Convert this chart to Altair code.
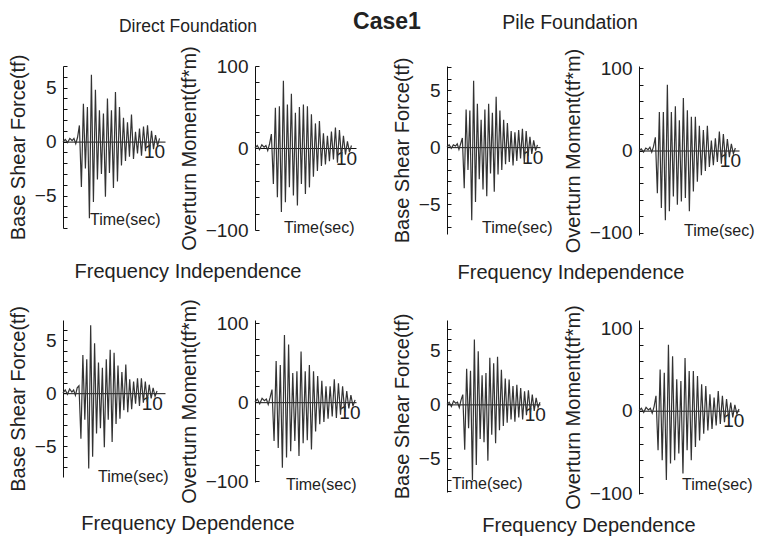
import altair as alt
import pandas as pd

# shared time instants (sec) of the read-off extrema
T = [0.0, 0.25, 0.5, 0.75, 1.0, 1.2, 1.4, 1.6,
     1.80, 2.02, 2.24, 2.46, 2.68, 2.90, 3.12, 3.34, 3.56, 3.78,
     4.00, 4.22, 4.44, 4.66, 4.88, 5.10, 5.32, 5.54, 5.76, 5.98,
     6.20, 6.42, 6.64, 6.86, 7.08, 7.30, 7.52, 7.74, 7.96, 8.18,
     8.40, 8.62, 8.84, 9.06, 9.28, 9.50, 9.72, 9.94, 10.16, 10.38, 10.60]

# Direct foundation, frequency independence
DIRECT_FI_SHEAR = [0.0, 0.2, -0.1, 0.3, 0.1, 0.3, -0.2, 0.4,
                   1.5, -4.2, 3.5, -2.5, 3.2, -7.1, 6.2, -5.6, 4.8, -3.5,
                   2.9, -3.0, 2.6, -5.1, 4.0, -2.9, 2.9, -4.3, 4.6, -3.7,
                   3.2, -2.2, 2.2, -1.8, 1.8, -1.4, 2.5, -1.6, 0.9, -1.1,
                   1.2, -1.3, 1.4, -0.9, 1.5, -1.0, 1.0, -0.7, 0.6, -0.4, 0.3]
DIRECT_FI_MOMENT = [0, 3, -2, 4, 1, 3, -3, 5,
                    17, -44, 49, -60, 51, -78, 82, -66, 53, -48,
                    66, -58, 43, -70, 50, -44, 53, -56, 51, -48,
                    41, -35, 30, -28, 33, -22, 18, -20, 15, -16,
                    20, -14, 25, -18, 22, -12, 15, -8, 8, -5, 3]
# Pile foundation, frequency independence
PILE_FI_SHEAR = [0.0, 0.2, -0.1, 0.2, 0.1, 0.3, -0.2, 0.3,
                 0.8, -3.6, 3.3, -2.0, 3.2, -6.4, 5.8, -4.8, 3.8, -2.8,
                 2.4, -3.7, 3.3, -4.3, 3.8, -2.3, 3.0, -3.9, 4.4, -2.4,
                 3.2, -2.0, 2.4, -1.5, 2.1, -1.3, 1.4, -1.6, 1.3, -1.2,
                 1.5, -1.0, 1.6, -1.4, 1.4, -0.8, 0.9, -0.6, 0.6, -0.3, 0.2]
PILE_FI_MOMENT = [0, 2, -2, 3, 1, 4, -2, 5,
                  16, -52, 47, -70, 47, -85, 80, -74, 47, -56,
                  54, -66, 37, -62, 64, -58, 49, -74, 41, -50,
                  41, -38, 30, -30, 25, -25, 30, -20, 12, -18,
                  15, -14, 23, -16, 20, -12, 14, -8, 8, -4, 3]
# Direct foundation, frequency dependence
DIRECT_FD_SHEAR = [0.0, 0.3, -0.1, 0.4, 0.1, 0.3, -0.2, 0.5,
                   0.7, -4.3, 3.6, -2.5, 3.2, -7.1, 6.4, -6.0, 4.7, -3.8,
                   2.9, -3.3, 2.4, -5.1, 3.2, -2.5, 4.1, -4.6, 3.8, -2.9,
                   2.6, -2.4, 2.0, -1.6, 2.7, -1.8, 1.3, -1.5, 1.1, -1.0,
                   1.4, -1.2, 1.4, -0.9, 1.1, -0.8, 0.8, -0.5, 0.5, -0.3, 0.2]
DIRECT_FD_MOMENT = [0, 4, -2, 5, 2, 4, -3, 6,
                    16, -49, 52, -58, 47, -83, 85, -70, 73, -62,
                    37, -49, 39, -68, 64, -52, 39, -48, 47, -60,
                    39, -37, 33, -28, 27, -25, 20, -21, 20, -18,
                    29, -20, 24, -16, 20, -12, 14, -8, 9, -5, 3]
# Pile foundation, frequency dependence
PILE_FD_SHEAR = [0.0, 0.2, -0.2, 0.3, 0.1, 0.2, -0.3, 0.4,
                 0.9, -4.2, 3.3, -2.2, 3.1, -7.0, 6.0, -5.6, 4.9, -3.2,
                 2.7, -3.5, 2.9, -5.2, 4.3, -2.8, 3.8, -3.6, 4.4, -2.4,
                 3.2, -2.0, 2.4, -1.7, 2.3, -1.4, 1.7, -1.6, 1.8, -1.2,
                 1.5, -1.4, 1.2, -1.0, 1.3, -0.8, 0.9, -0.6, 0.6, -0.3, 0.2]
PILE_FD_MOMENT = [0, 3, -2, 4, 1, 3, -3, 5,
                  18, -48, 50, -60, 46, -84, 80, -64, 66, -60,
                  38, -52, 36, -76, 64, -48, 48, -60, 48, -44,
                  42, -36, 32, -28, 30, -24, 20, -22, 16, -18,
                  24, -16, 18, -14, 14, -10, 10, -8, 7, -4, 2]

SHEAR_TITLE = "Base Shear Force(tf)"
MOMENT_TITLE = "Overturn Moment(tf*m)"
TIME_LABEL = "Time(sec)"
CASE_TITLE = "Case1"
HEAD_DIRECT = "Direct Foundation"
HEAD_PILE = "Pile Foundation"
FOOT_FI = "Frequency Independence"
FOOT_FD = "Frequency Dependence"

FONT = "Liberation Sans, Arial, sans-serif"
TXT = "#222222"
LINE = "#333333"


def text_layer(s, x, y, size, weight="normal", align="left"):
    return alt.Chart(pd.DataFrame({"s": [s]})).mark_text(
        align=align, baseline="alphabetic", font=FONT, fontSize=size,
        fontWeight=weight, color=TXT
    ).encode(text="s:N", x=alt.value(x), y=alt.value(y))


def panel(vals, ymin, ymax, h, w, xmax, ylabels, minor, ytitle, time_xy, extras=()):
    df = pd.DataFrame({"t": T, "v": vals})
    y0 = h * ymax / (ymax - ymin)
    xenc = alt.X("t:Q",
                 scale=alt.Scale(domain=[0, xmax], nice=False, zero=False),
                 axis=alt.Axis(values=[10], orient="bottom", offset=-(h - y0),
                               title=None, ticks=False, grid=False,
                               domainColor="#111111", domainWidth=1,
                               labelFont=FONT, labelFontSize=19,
                               labelColor=TXT, labelPadding=1))
    yscale = alt.Scale(domain=[ymin, ymax], nice=False, zero=False)
    line = alt.Chart(df).mark_line(color=LINE, strokeWidth=1.2).encode(
        x=xenc,
        y=alt.Y("v:Q", scale=yscale,
                axis=alt.Axis(values=ylabels, orient="left", title=ytitle,
                              ticks=False, grid=False,
                              domainColor="#111111", domainWidth=1,
                              labelFont=FONT, labelFontSize=19, labelColor=TXT,
                              labelPadding=7, titleFont=FONT, titleFontSize=20,
                              titleFontWeight="normal", titleColor=TXT,
                              titlePadding=6)),
    )
    tick_layer = alt.Chart(df).mark_line(opacity=0).encode(
        x=xenc,
        y=alt.Y("v:Q", scale=yscale,
                axis=alt.Axis(values=minor, orient="right", offset=-w,
                              labels=False, domain=False, grid=False,
                              tickSize=4, tickColor="#111111", title=None)),
    )
    layers = [line, tick_layer,
              text_layer(TIME_LABEL, time_xy[0], time_xy[1], 16)]
    for e in extras:
        layers.append(text_layer(*e))
    return alt.layer(*layers).resolve_axis(y="independent").properties(
        width=w, height=h)


shear_minor = lambda lo, hi: list(range(lo, hi + 1))
moment_minor = list(range(-100, 101, 20))

p1 = panel(DIRECT_FI_SHEAR, -8, 7, 162, 102, 11.2, [-5, 0, 5], shear_minor(-8, 7),
           SHEAR_TITLE, (27, 159),
           [(HEAD_DIRECT, 125, -34, 17.5, "normal", "center"),
            (FOOT_FI, 125, 212, 20, "normal", "center")])
p2 = panel(DIRECT_FI_MOMENT, -100, 100, 164, 101, 11.1, [-100, 0, 100], moment_minor,
           MOMENT_TITLE, (29, 167))
p3 = panel(PILE_FI_SHEAR, -7.6, 7.1, 168, 93, 10.9, [-5, 0, 5], shear_minor(-7, 7),
           SHEAR_TITLE, (35, 167),
           [(CASE_TITLE, -60, -37, 23, "bold", "center"),
            (HEAD_PILE, 123, -37, 19.5, "normal", "center"),
            (FOOT_FI, 124, 213, 20, "normal", "center")])
p4 = panel(PILE_FI_MOMENT, -103, 103, 169, 100, 11.0, [-100, 0, 100], moment_minor,
           MOMENT_TITLE, (45, 170))
p5 = panel(DIRECT_FD_SHEAR, -7.9, 6.9, 157, 102, 11.5, [-5, 0, 5], shear_minor(-7, 6),
           SHEAR_TITLE, (35, 162),
           [(FOOT_FD, 125, 210, 20, "normal", "center")])
p6 = panel(DIRECT_FD_MOMENT, -101, 104, 162, 101, 10.7, [-100, 0, 100], moment_minor,
           MOMENT_TITLE, (31, 170))
p7 = panel(PILE_FD_SHEAR, -8.1, 7.8, 172, 93, 10.6, [-5, 0, 5], shear_minor(-8, 7),
           SHEAR_TITLE, (5, 169),
           [(FOOT_FD, 142, 212, 20, "normal", "center")])
p8 = panel(PILE_FD_MOMENT, -101, 110, 174, 100, 10.6, [-100, 0, 100], moment_minor,
           MOMENT_TITLE, (43, 170))

chart = alt.concat(p1, p2, p3, p4, p5, p6, p7, p8, columns=4,
                   spacing={"row": 80, "column": 90},
                   bounds="flush", align="all").properties(
    padding={"top": 3, "left": 0, "right": 0, "bottom": 0}, background="white"
).configure_view(stroke=None)

chart.save("out.html", embed_options={"renderer": "svg", "actions": False})
